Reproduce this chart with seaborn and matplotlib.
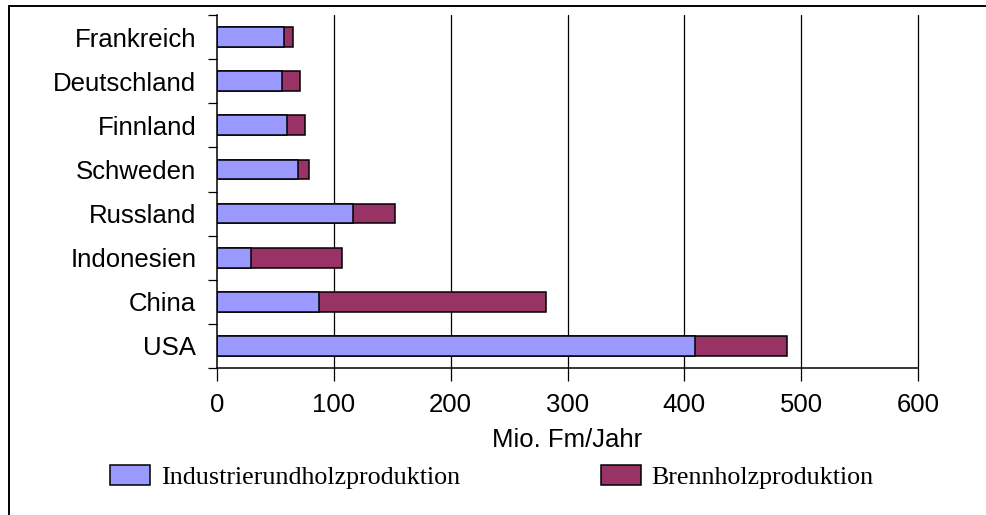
import matplotlib
matplotlib.use("Agg")
import matplotlib.pyplot as plt
import matplotlib.patches as mpatches
from matplotlib.ticker import FixedLocator
import seaborn as sns
import pandas as pd

countries = ["Frankreich", "Deutschland", "Finnland", "Schweden",
             "Russland", "Indonesien", "China", "USA"]
industrie = [57, 56, 60, 69, 116, 29, 87, 409]
brennholz = [8, 15, 15, 10, 36, 78, 195, 79]
xticks = [0, 100, 200, 300, 400, 500, 600]
label_ind = "Industrierundholzproduktion"
label_brenn = "Brennholzproduktion"
xlabel = "Mio. Fm/Jahr"

blue = "#9999FF"
maroon = "#993366"

df = pd.DataFrame({
    "Land": countries,
    "Industrie": industrie,
    "Gesamt": [a + b for a, b in zip(industrie, brennholz)],
})

sns.set_theme(style="white")
plt.rcParams["font.family"] = ["Liberation Sans", "DejaVu Sans"]
plt.rcParams["text.color"] = "black"
plt.rcParams["axes.labelcolor"] = "black"
plt.rcParams["xtick.color"] = "black"
plt.rcParams["ytick.color"] = "black"

fs = 18.5

fig = plt.figure(figsize=(9.86, 5.15), dpi=100)
ax = fig.add_axes([217 / 986, 1 - 368 / 515, (918 - 217) / 986, (368 - 15) / 515])

sns.barplot(data=df, y="Land", x="Gesamt", color=maroon, orient="h",
            width=0.45, edgecolor="black", linewidth=1.1, saturation=1, ax=ax)
sns.barplot(data=df, y="Land", x="Industrie", color=blue, orient="h",
            width=0.45, edgecolor="black", linewidth=1.1, saturation=1, ax=ax)

ax.set_xlim(0, 600)
ax.set_ylim(len(countries) - 0.5, -0.5)
ax.set_xticks(xticks)
ax.set_xticklabels([str(v) for v in xticks], fontsize=fs)
ax.set_ylabel("")
ax.set_xlabel(xlabel, fontsize=fs, labelpad=8)

# gridlines
for v in xticks[1:]:
    ax.axvline(v, color="black", lw=0.9, zorder=0, clip_on=False)

ax.tick_params(axis="x", which="major", direction="out", length=9, width=0.9,
               color="black", bottom=True, pad=9, labelcolor="black")
ax.tick_params(axis="y", which="major", length=0, pad=15, labelsize=fs, labelcolor="black")
ax.yaxis.set_minor_locator(FixedLocator([i - 0.5 for i in range(len(countries) + 1)]))
ax.tick_params(axis="y", which="minor", direction="out", length=6.5, width=0.9,
               color="black", left=True)
for lab in ax.get_yticklabels():
    lab.set_fontsize(fs)

for s in ["top", "right"]:
    ax.spines[s].set_visible(False)
for s in ["left", "bottom"]:
    ax.spines[s].set_color("black")
    ax.spines[s].set_linewidth(1.1)

handles = [mpatches.Patch(facecolor=blue, edgecolor="black", lw=1.1, label=label_ind),
           mpatches.Patch(facecolor=maroon, edgecolor="black", lw=1.1, label=label_brenn)]
fig.legend(handles=handles, loc="center left", bbox_to_anchor=(110 / 986, 1 - 477 / 515),
           ncol=2, frameon=False, borderpad=0, borderaxespad=0,
           handlelength=1.55, handleheight=0.8, handletextpad=0.4, columnspacing=5.43,
           prop={"family": "Liberation Serif", "size": 18.7}, labelcolor="black")

# outer frame
fig.patches.append(mpatches.Rectangle((9 / 986, -0.05), 1.0, 1 - 6 / 515 + 0.05,
                                      transform=fig.transFigure, fill=False,
                                      edgecolor="black", lw=1.4))

fig.savefig("out.png", dpi=100)
